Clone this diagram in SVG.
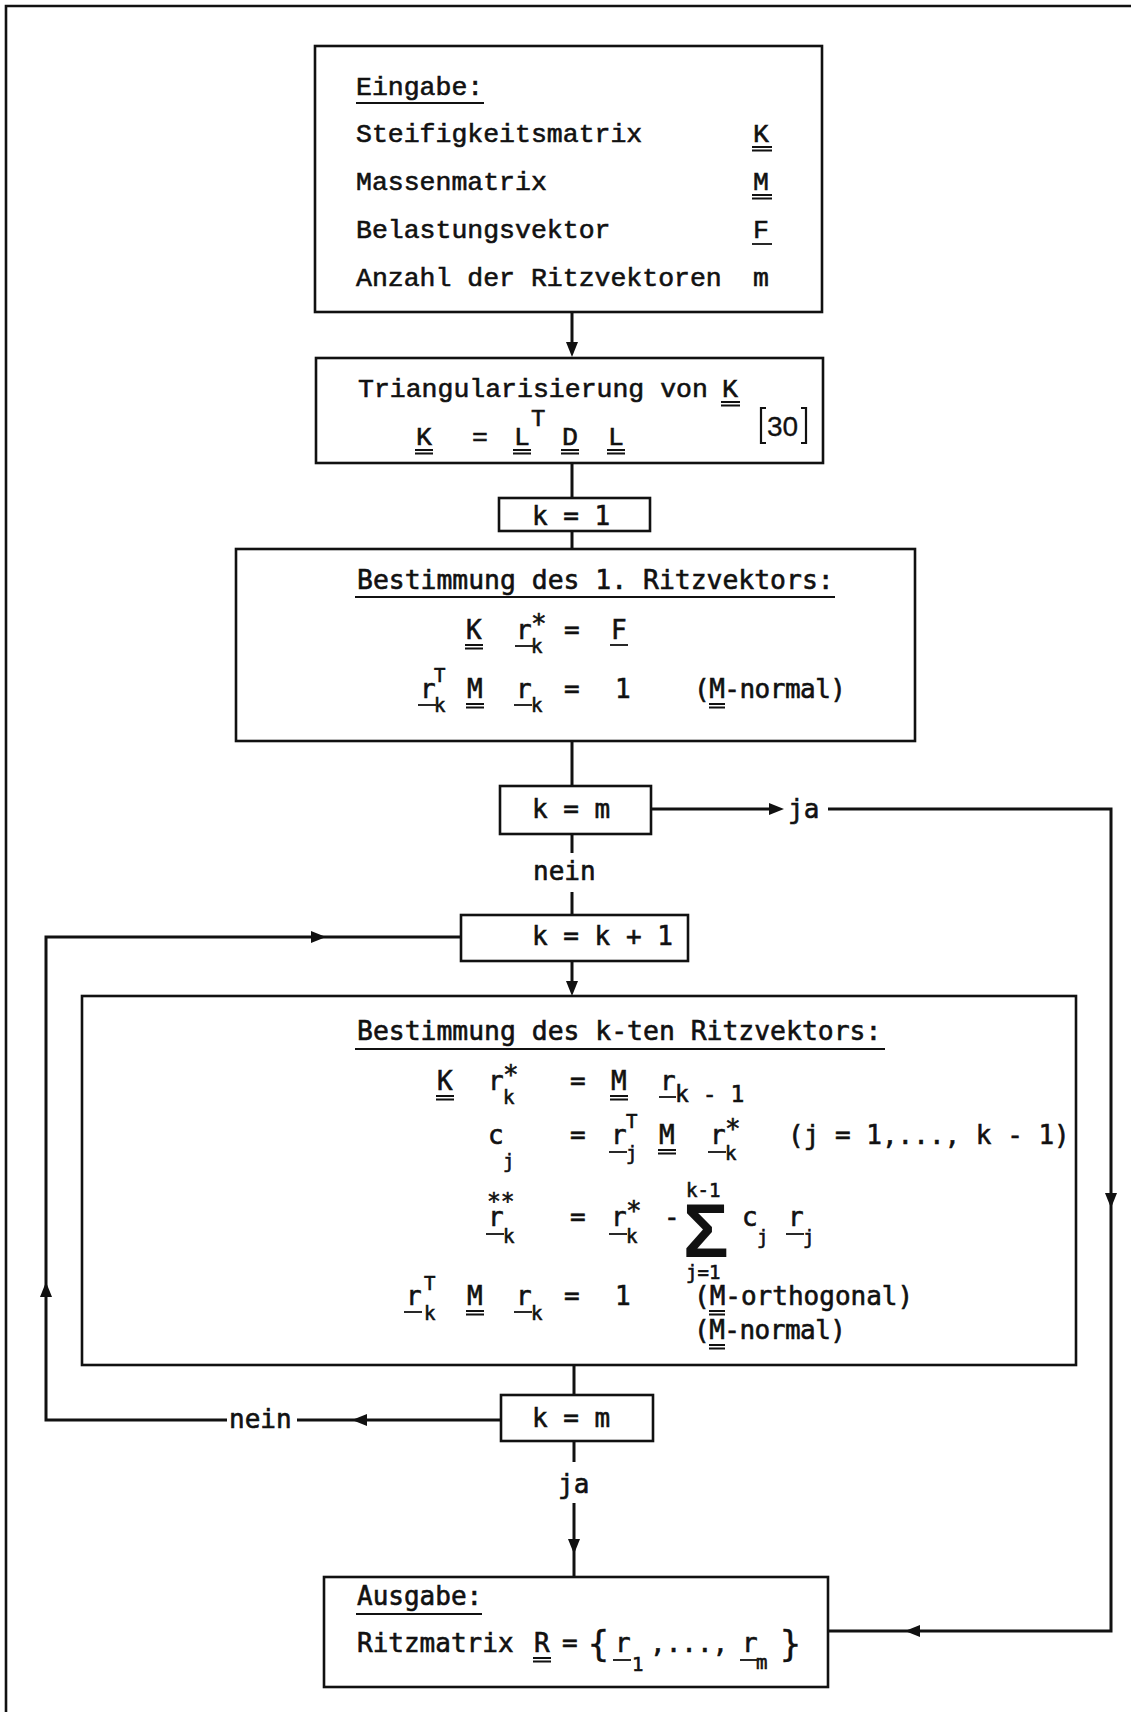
<svg xmlns="http://www.w3.org/2000/svg" xmlns:xlink="http://www.w3.org/1999/xlink" width="1131" height="1712" viewBox="0 0 1131 1712">
<style>
.bx{fill:none;stroke:#111;stroke-width:2.6}
.ln{fill:none;stroke:#111;stroke-width:3}
.ul{fill:none;stroke:#111;stroke-width:1.8}
text{stroke:#111;stroke-width:0.6}
.m{font-family:"Liberation Mono",monospace;font-size:26.5px;fill:#111}
.c{font-family:"DejaVu Sans Mono",monospace;font-size:26px;fill:#111}
.t{font-family:"DejaVu Sans Mono",monospace;font-size:26.4px;fill:#111}
.s{font-family:"DejaVu Sans Mono",monospace;font-size:19px;fill:#111}
.n{font-family:"Liberation Sans",sans-serif;font-size:28px;fill:#111}
</style>
<defs>
<path id="ah" d="M0,0 L-15,-6 L-15,6 Z" fill="#111"/>
</defs>
<rect width="1131" height="1712" fill="#fff"/>
<path class="bx" d="M6,1712 L6,6 L1131,6"/>

<g id="eingabe">
<rect class="bx" x="315" y="46" width="507" height="266"/>
<text class="m" x="356" y="95">Eingabe:</text>
<path class="ul" d="M356,103 H484"/>
<text class="m" x="356" y="142">Steifigkeitsmatrix</text>
<text class="m" x="356" y="190">Massenmatrix</text>
<text class="m" x="356" y="238">Belastungsvektor</text>
<text class="m" x="356" y="286">Anzahl der Ritzvektoren</text>
<text class="m" x="753" y="142">K</text>
<path class="ul" d="M752,147 H772 M752,150.5 H772"/>
<text class="m" x="753" y="190">M</text>
<path class="ul" d="M752,195 H772 M752,198.5 H772"/>
<text class="m" x="753" y="238">F</text>
<path class="ul" d="M752,244 H772"/>
<text class="m" x="753" y="286">m</text>
</g>

<g id="triang">
<rect class="bx" x="316" y="358" width="507" height="105"/>
<text class="m" x="358" y="397">Triangularisierung von</text>
<text class="m" x="722" y="397">K</text>
<path class="ul" d="M721,402 H740 M721,405.5 H740"/>
<text class="m" x="416" y="445">K</text>
<path class="ul" d="M415,450 H433 M415,453.5 H433"/>
<text class="m" x="472" y="445">=</text>
<text class="m" x="514" y="445">L</text>
<path class="ul" d="M513,450 H531 M513,453.5 H531"/>
<text class="m" x="531" y="426" style="font-size:24px">T</text>
<text class="m" x="562" y="445">D</text>
<path class="ul" d="M561,450 H579 M561,453.5 H579"/>
<text class="m" x="608" y="445">L</text>
<path class="ul" d="M607,450 H625 M607,453.5 H625"/>
<path class="ul" style="stroke-width:2.2" d="M766,408 H761 V443 H766 M801,408 H806 V443 H801"/>
<text class="n" x="767" y="436" style="stroke-width:0.3">30</text>
</g>

<g id="k1">
<rect class="bx" x="499" y="498" width="151" height="33"/>
<text class="c" x="532" y="525">k = 1</text>
</g>

<g id="first">
<rect class="bx" x="236" y="549" width="679" height="192"/>
<text class="t" x="357" y="589">Bestimmung des 1. Ritzvektors:</text>
<path class="ul" d="M355,597 H835"/>
<text class="c" x="466" y="639">K</text>
<path class="ul" d="M465,645 H483 M465,648.5 H483"/>
<text class="c" x="516" y="639">r</text>
<text class="c" x="531" y="633">*</text>
<text class="s" x="531" y="653">k</text>
<path class="ul" d="M515,646 H533"/>
<text class="c" x="564" y="639">=</text>
<text class="c" x="611" y="639">F</text>
<path class="ul" d="M610,645 H628"/>
<text class="c" x="420" y="698">r</text>
<text class="s" x="434" y="682">T</text>
<text class="s" x="434" y="712">k</text>
<path class="ul" d="M418,705 H436"/>
<text class="c" x="467" y="698">M</text>
<path class="ul" d="M466,704 H484 M466,707.5 H484"/>
<text class="c" x="516" y="698">r</text>
<text class="s" x="531" y="712">k</text>
<path class="ul" d="M514,705 H532"/>
<text class="c" x="564" y="698">=</text>
<text class="c" x="615" y="698">1</text>
<text class="c" x="694" y="698" textLength="152">(M-normal)</text>
<path class="ul" d="M709,704 H725 M709,707.5 H725"/>
</g>

<g id="km1">
<rect class="bx" x="500" y="786" width="151" height="48"/>
<text class="c" x="532" y="818">k = m</text>
</g>

<g id="kinc">
<rect class="bx" x="461" y="915" width="227" height="46"/>
<text class="c" x="532" y="945">k = k + 1</text>
</g>

<g id="kth">
<rect class="bx" x="82" y="996" width="994" height="369"/>
<text class="t" x="357" y="1040">Bestimmung des k-ten Ritzvektors:</text>
<path class="ul" d="M355,1049 H885"/>
<text class="c" x="437" y="1090">K</text>
<path class="ul" d="M436,1096 H454 M436,1099.5 H454"/>
<text class="c" x="488" y="1090">r</text>
<text class="c" x="503" y="1084">*</text>
<text class="s" x="503" y="1104">k</text>
<text class="c" x="570" y="1090">=</text>
<text class="c" x="611" y="1090">M</text>
<path class="ul" d="M610,1096 H628 M610,1099.5 H628"/>
<text class="c" x="660" y="1090">r</text>
<text class="c" x="675" y="1102" style="font-size:23px">k - 1</text>
<path class="ul" d="M659,1097 H676"/>
<text class="c" x="488" y="1144">c</text>
<text class="s" x="503" y="1168">j</text>
<text class="c" x="570" y="1144">=</text>
<text class="c" x="611" y="1144">r</text>
<text class="s" x="626" y="1128">T</text>
<text class="s" x="626" y="1160">j</text>
<path class="ul" d="M609,1152 H627"/>
<text class="c" x="659" y="1144">M</text>
<path class="ul" d="M658,1150 H676 M658,1153.5 H676"/>
<text class="c" x="710" y="1144">r</text>
<text class="c" x="725" y="1138">*</text>
<text class="s" x="725" y="1160">k</text>
<path class="ul" d="M708,1152 H726"/>
<text class="c" x="788" y="1144">(j = 1,..., k - 1)</text>
<text class="c" x="488" y="1226">r</text>
<text class="c" x="487" y="1209" style="font-size:23px">**</text>
<text class="s" x="503" y="1243">k</text>
<path class="ul" d="M486,1234 H504"/>
<text class="c" x="570" y="1226">=</text>
<text class="c" x="611" y="1226">r</text>
<text class="c" x="626" y="1220">*</text>
<text class="s" x="626" y="1243">k</text>
<path class="ul" d="M609,1234 H627"/>
<text class="c" x="664" y="1226">-</text>
<text x="683" y="1257" style="font-family:'Liberation Sans',sans-serif;font-size:76px;font-weight:bold;fill:#111;stroke-width:0">Σ</text>
<text class="s" x="686" y="1197">k-1</text>
<text class="s" x="686" y="1279">j=1</text>
<text class="c" x="742" y="1226">c</text>
<text class="s" x="757" y="1244">j</text>
<text class="c" x="788" y="1226">r</text>
<text class="s" x="803" y="1244">j</text>
<path class="ul" d="M786,1234 H804"/>
<text class="c" x="406" y="1305">r</text>
<text class="s" x="424" y="1290">T</text>
<text class="s" x="424" y="1320">k</text>
<path class="ul" d="M404,1312 H422"/>
<text class="c" x="467" y="1305">M</text>
<path class="ul" d="M466,1311 H484 M466,1314.5 H484"/>
<text class="c" x="516" y="1305">r</text>
<text class="s" x="531" y="1320">k</text>
<path class="ul" d="M514,1312 H532"/>
<text class="c" x="564" y="1305">=</text>
<text class="c" x="615" y="1305">1</text>
<text class="c" x="694" y="1305">(M-orthogonal)</text>
<path class="ul" d="M709,1311 H725 M709,1314.5 H725"/>
<text class="c" x="694" y="1339" textLength="152">(M-normal)</text>
<path class="ul" d="M709,1345 H725 M709,1348.5 H725"/>
</g>

<g id="km2">
<rect class="bx" x="501" y="1395" width="152" height="46"/>
<text class="c" x="532" y="1427">k = m</text>
</g>

<g id="ausgabe">
<rect class="bx" x="324" y="1577" width="504" height="110"/>
<text class="c" x="357" y="1605">Ausgabe:</text>
<path class="ul" d="M356,1614 H482"/>
<text class="c" x="357" y="1652">Ritzmatrix</text>
<text class="c" x="534" y="1652">R</text>
<path class="ul" d="M533,1658 H551 M533,1661.5 H551"/>
<text class="c" x="562" y="1652">=</text>
<text x="587" y="1656" style="font-family:'DejaVu Sans',sans-serif;font-size:36px;fill:#111;stroke-width:0.3">{</text>
<text class="c" x="615" y="1652">r</text>
<text class="s" x="632" y="1671">1</text>
<path class="ul" d="M613,1660 H631"/>
<text class="c" x="650" y="1652">,...,</text>
<text class="c" x="742" y="1652">r</text>
<text class="s" x="756" y="1669">m</text>
<path class="ul" d="M740,1660 H757"/>
<text x="779" y="1656" style="font-family:'DejaVu Sans',sans-serif;font-size:36px;fill:#111;stroke-width:0.3">}</text>
</g>

<g id="connectors">
<path class="ln" d="M572,312 V345"/>
<use xlink:href="#ah" transform="translate(572,357) rotate(90)"/>
<path class="ln" d="M572,463 V498"/>
<path class="ln" d="M572,531 V549"/>
<path class="ln" d="M572,741 V786"/>
<path class="ln" d="M651,809 H772"/>
<use xlink:href="#ah" transform="translate(784,809)"/>
<text class="c" x="788" y="818">ja</text>
<path class="ln" d="M828,809 H1111 V1631 H828"/>
<use xlink:href="#ah" transform="translate(1111,1208) rotate(90)"/>
<use xlink:href="#ah" transform="translate(905,1631) rotate(180)"/>
<path class="ln" d="M572,834 V853"/>
<text class="c" x="533" y="880">nein</text>
<path class="ln" d="M572,892 V915"/>
<path class="ln" d="M572,961 V985"/>
<use xlink:href="#ah" transform="translate(572,996) rotate(90)"/>
<path class="ln" d="M574,1365 V1395"/>
<path class="ln" d="M501,1420 H297"/>
<use xlink:href="#ah" transform="translate(352,1420) rotate(180)"/>
<text class="c" x="229" y="1428">nein</text>
<path class="ln" d="M227,1420 H46 V937 H461"/>
<use xlink:href="#ah" transform="translate(46,1282) rotate(-90)"/>
<use xlink:href="#ah" transform="translate(326,937)"/>
<path class="ln" d="M574,1441 V1462"/>
<text class="c" x="558" y="1493">ja</text>
<path class="ln" d="M574,1503 V1577"/>
<use xlink:href="#ah" transform="translate(574,1554) rotate(90)"/>
</g>
</svg>
